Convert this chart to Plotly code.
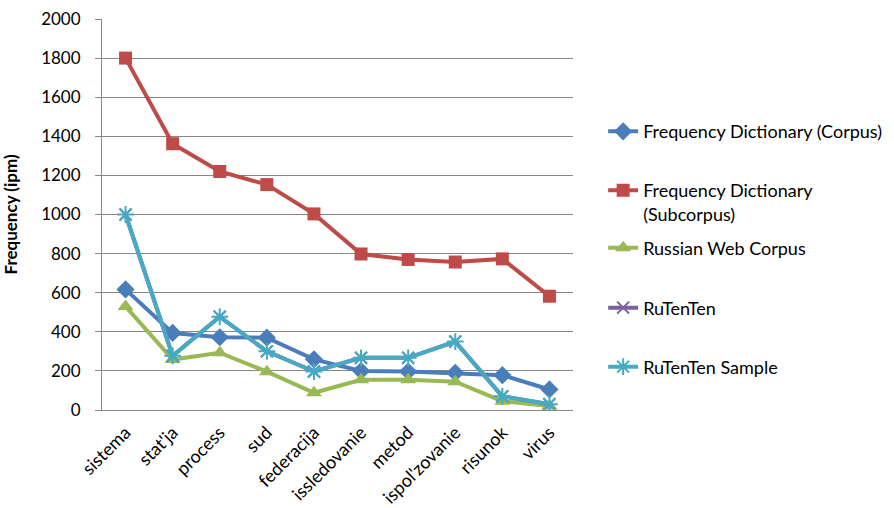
import plotly.graph_objects as go

categories = ["sistema", "stat'ja", "process", "sud", "federacija",
              "issledovanie", "metod", "ispol'zovanie", "risunok", "virus"]

freq_dict_corpus = [617, 394, 372, 370, 259, 200, 197, 190, 178, 105]
freq_dict_subcorpus = [1800, 1362, 1220, 1153, 1003, 798, 770, 757, 773, 582]
russian_web_corpus = [530, 258, 293, 196, 88, 155, 155, 145, 45, 20]
rutenten = [1000, 277, 477, 300, 197, 267, 267, 350, 70, 30]
rutenten_sample = [1000, 277, 477, 300, 197, 267, 267, 350, 70, 30]

series = [
    ("Frequency Dictionary (Corpus)", freq_dict_corpus, "#4A7EBB", "diamond", 14, 0),
    ("Frequency Dictionary<br>(Subcorpus)", freq_dict_subcorpus, "#BE4B48", "square", 13, 0),
    ("Russian Web Corpus", russian_web_corpus, "#98B954", "triangle-up", 14, 0),
    ("RuTenTen", rutenten, "#7D60A0", "x-thin-open", 12, 2),
    ("RuTenTen Sample", rutenten_sample, "#46AAC5", "asterisk-open", 14, 2),
]

# vertical centre (paper fraction) of each legend entry
legend_y = [0.712, 0.532, 0.414, 0.261, 0.110]
legend_names = ["legend", "legend2", "legend3", "legend4", "legend5"]

font_family = "Lato, 'Open Sans', sans-serif"

fig = go.Figure()
for (name, vals, color, symbol, size, mlw), lg in zip(series, legend_names):
    fig.add_trace(go.Scatter(
        x=categories, y=vals, name=name, mode="lines+markers",
        line=dict(color=color, width=4),
        marker=dict(symbol=symbol, size=size, color=color,
                    line=dict(color=color, width=mlw)),
        legend=lg,
    ))

legend_layout = {}
for lg, ly in zip(legend_names, legend_y):
    legend_layout[lg] = dict(
        x=1.064, xanchor="left", y=ly, yanchor="middle",
        font=dict(size=18, family=font_family, color="#000000"),
        valign="top", bgcolor="rgba(0,0,0,0)",
    )

fig.update_layout(
    width=894, height=508,
    margin=dict(l=102, r=321, t=19, b=98, autoexpand=False),
    paper_bgcolor="white", plot_bgcolor="white",
    font=dict(family=font_family, size=17, color="#000000"),
    showlegend=True,
    xaxis=dict(
        type="category", showgrid=False, showline=True,
        linecolor="#868686", linewidth=1, tickangle=-45,
        ticks="", range=[-0.5, 9.5], zeroline=False, automargin=False,
        tickfont=dict(size=18), ticklabelstandoff=4,
    ),
    yaxis=dict(
        range=[0, 2000], dtick=200, showgrid=True, gridcolor="#868686",
        gridwidth=1, showline=True, linecolor="#868686", linewidth=1,
        ticks="outside", ticklen=6, tickcolor="#868686", zeroline=False,
        tickfont=dict(size=17), ticklabelstandoff=11, automargin=False,
        title=dict(text="<b>Frequency (ipm)</b>", font=dict(size=17), standoff=19),
    ),
    **legend_layout,
)

fig.write_html("out.html")
